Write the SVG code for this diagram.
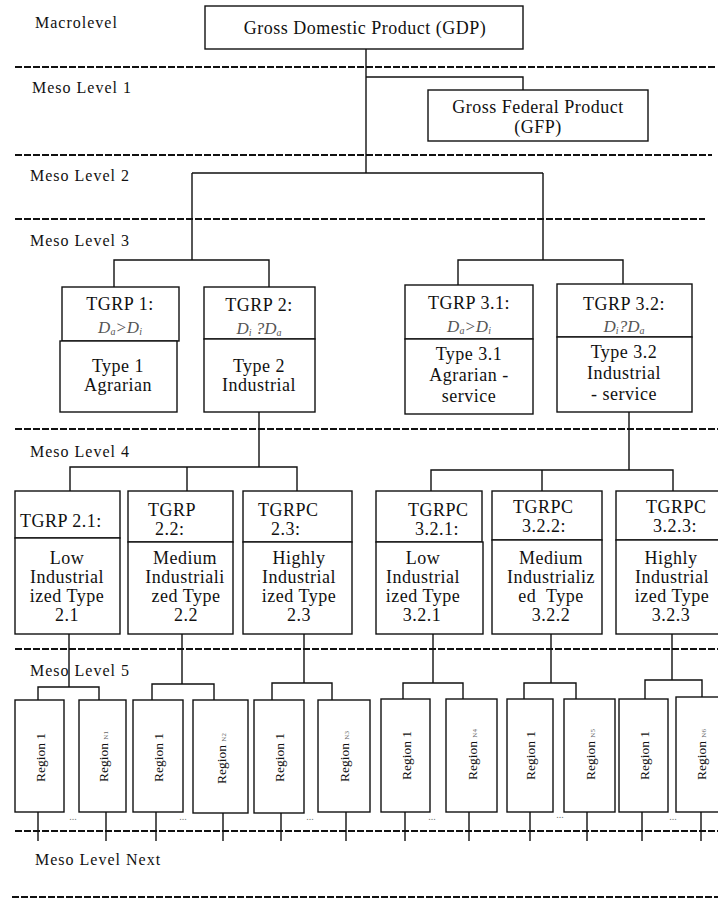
<svg xmlns="http://www.w3.org/2000/svg" width="718" height="899" viewBox="0 0 718 899" font-family="'Liberation Serif', 'DejaVu Serif', serif">
<style>
text{font-family:'Liberation Serif','DejaVu Serif',serif;fill:#111}
.lvl{font-size:16px;letter-spacing:1px}
.t{font-size:18px;letter-spacing:0.5px;text-anchor:middle}
.tl{font-size:18px;letter-spacing:0.5px}
.f{font-size:17px;font-style:italic;fill:#555;text-anchor:middle}
.sub{font-size:10px}
.r{font-size:13.5px}
.rs{font-size:7px;fill:#666}
.dots{font-size:10px;fill:#777;text-anchor:middle}
.box{fill:#fff;stroke:#111;stroke-width:1.4}
.dash{stroke:#111;stroke-width:2;stroke-dasharray:7 2;fill:none}
.c{stroke:#111;stroke-width:1.4;fill:none}
</style>

<g id="levels">
<line class="dash" x1="15" y1="67" x2="715" y2="67"/>
<line class="dash" x1="15" y1="155" x2="712" y2="155"/>
<line class="dash" x1="15" y1="219" x2="705" y2="219"/>
<line class="dash" x1="15" y1="429" x2="718" y2="429"/>
<line class="dash" x1="15" y1="649" x2="718" y2="649"/>
<line class="dash" x1="15" y1="831" x2="718" y2="831"/>
<line class="dash" x1="12" y1="897" x2="718" y2="897"/>
<text class="lvl" x="35" y="28">Macrolevel</text>
<text class="lvl" x="32" y="93">Meso Level 1</text>
<text class="lvl" x="30" y="181">Meso Level 2</text>
<text class="lvl" x="30" y="246">Meso Level 3</text>
<text class="lvl" x="30" y="457">Meso Level 4</text>
<text class="lvl" x="30" y="676">Meso Level 5</text>
<text class="lvl" x="35" y="865">Meso Level Next</text>
</g>

<g id="connectors">
<path class="c" d="M366 49V173M366 77H523V90"/>
<path class="c" d="M192 173H543M192 173V260M543 173V260"/>
<path class="c" d="M114 287V260H269V287"/>
<path class="c" d="M458 285V260H623V284"/>
<path class="c" d="M259 412V467M70 491V467H297V491M187 467V491"/>
<path class="c" d="M629 412V470M431 491V470H673V491M542 470V491"/>
<path class="c" d="M69 634V687M38 700V687H99V700"/>
<path class="c" d="M182 634V684M152 700V684H214V700"/>
<path class="c" d="M304 634V683M272 700V683H332V700"/>
<path class="c" d="M433 634V683M403 699V683H463V699"/>
<path class="c" d="M551 634V683M524 699V683H576V699"/>
<path class="c" d="M672 634V680M645 699V680H702V697"/>
<path class="c" d="M38 812V841M106 812V841M156 812V841M223 812V841M281 812V841M346 812V841M405 812V841M469 812V841M530 812V841M587 812V841M642 812V841M701 812V841"/>
</g>

<g id="gdp">
<rect class="box" x="205" y="6" width="318" height="43"/>
<text class="t" x="365" y="34">Gross Domestic Product (GDP)</text>
</g>

<g id="gfp">
<rect class="box" x="428" y="90" width="220" height="51"/>
<text class="t" x="538" y="113">Gross Federal Product</text>
<text class="t" x="538" y="133">(GFP)</text>
</g>

<g id="tgrp1">
<rect class="box" x="62" y="287" width="117" height="54"/>
<rect class="box" x="60" y="341" width="117" height="71"/>
<text class="t" x="120" y="310">TGRP 1:</text>
<text class="f" x="120" y="333">D<tspan class="sub" dy="2">a</tspan><tspan dy="-2">&gt;D</tspan><tspan class="sub" dy="2">i</tspan></text>
<text class="t" x="118" y="372">Type 1</text>
<text class="t" x="118" y="391">Agrarian</text>
</g>

<g id="tgrp2">
<rect class="box" x="204" y="287" width="111" height="52"/>
<rect class="box" x="204" y="339" width="111" height="73"/>
<text class="t" x="259" y="311">TGRP 2:</text>
<text class="f" x="259" y="334">D<tspan class="sub" dy="2">i</tspan><tspan dy="-2"> ?D</tspan><tspan class="sub" dy="2">a</tspan></text>
<text class="t" x="259" y="372">Type 2</text>
<text class="t" x="259" y="391">Industrial</text>
</g>

<g id="tgrp31">
<rect class="box" x="405" y="285" width="128" height="54"/>
<rect class="box" x="405" y="339" width="128" height="75"/>
<text class="t" x="469" y="309">TGRP 3.1:</text>
<text class="f" x="469" y="332">D<tspan class="sub" dy="2">a</tspan><tspan dy="-2">&gt;D</tspan><tspan class="sub" dy="2">i</tspan></text>
<text class="t" x="469" y="360">Type 3.1</text>
<text class="t" x="469" y="381">Agrarian -</text>
<text class="t" x="469" y="402">service</text>
</g>

<g id="tgrp32">
<rect class="box" x="557" y="284" width="135" height="53"/>
<rect class="box" x="557" y="337" width="135" height="75"/>
<text class="t" x="624" y="310">TGRP 3.2:</text>
<text class="f" x="624" y="332">D<tspan class="sub" dy="2">i</tspan><tspan dy="-2">?D</tspan><tspan class="sub" dy="2">a</tspan></text>
<text class="t" x="624" y="358">Type 3.2</text>
<text class="t" x="624" y="379">Industrial</text>
<text class="t" x="624" y="400">- service</text>
</g>

<g id="tgrp21">
<rect class="box" x="15" y="491" width="105" height="47"/>
<rect class="box" x="15" y="538" width="105" height="96"/>
<text class="tl" x="20" y="527">TGRP 2.1:</text>
<text class="t" x="67" y="564">Low</text>
<text class="t" x="67" y="583">Industrial</text>
<text class="t" x="67" y="602">ized Type</text>
<text class="t" x="67" y="621">2.1</text>
</g>

<g id="tgrp22">
<rect class="box" x="128" y="491" width="105" height="51"/>
<rect class="box" x="128" y="542" width="105" height="92"/>
<text class="tl" x="148" y="516">TGRP</text>
<text class="tl" x="155" y="535">2.2:</text>
<text class="t" x="185" y="564">Medium</text>
<text class="t" x="185" y="583">Industriali</text>
<text class="t" x="186" y="602">zed Type</text>
<text class="t" x="186" y="621">2.2</text>
</g>

<g id="tgrpc23">
<rect class="box" x="243" y="491" width="109" height="51"/>
<rect class="box" x="243" y="542" width="109" height="92"/>
<text class="tl" x="258" y="516">TGRPC</text>
<text class="tl" x="271" y="535">2.3:</text>
<text class="t" x="299" y="564">Highly</text>
<text class="t" x="299" y="583">Industrial</text>
<text class="t" x="299" y="602">ized Type</text>
<text class="t" x="299" y="621">2.3</text>
</g>

<g id="tgrpc321">
<rect class="box" x="376" y="491" width="106" height="51"/>
<rect class="box" x="376" y="542" width="107" height="92"/>
<text class="tl" x="408" y="516">TGRPC</text>
<text class="tl" x="415" y="535">3.2.1:</text>
<text class="t" x="423" y="564">Low</text>
<text class="t" x="423" y="583">Industrial</text>
<text class="t" x="423" y="602">ized Type</text>
<text class="t" x="422" y="621">3.2.1</text>
</g>

<g id="tgrpc322">
<rect class="box" x="492" y="491" width="110" height="49"/>
<rect class="box" x="492" y="540" width="110" height="94"/>
<text class="tl" x="513" y="513">TGRPC</text>
<text class="tl" x="522" y="532">3.2.2:</text>
<text class="t" x="551" y="564">Medium</text>
<text class="t" x="551" y="583">Industrializ</text>
<text class="t" x="551" y="602" xml:space="preserve">ed  Type</text>
<text class="t" x="551" y="621">3.2.2</text>
</g>

<g id="tgrpc323">
<rect class="box" x="616" y="491" width="106" height="49"/>
<rect class="box" x="616" y="540" width="106" height="94"/>
<text class="tl" x="646" y="513">TGRPC</text>
<text class="tl" x="653" y="532">3.2.3:</text>
<text class="t" x="671" y="564">Highly</text>
<text class="t" x="672" y="583">Industrial</text>
<text class="t" x="672" y="602">ized Type</text>
<text class="t" x="671" y="621">3.2.3</text>
</g>

<g id="regions-2-1">
<rect class="box" x="15" y="700" width="49" height="112"/>
<text class="r" transform="translate(45 782) rotate(-90)">Region 1</text>
<rect class="box" x="79" y="700" width="47" height="112"/>
<text class="r" transform="translate(108 782) rotate(-90)">Region <tspan class="rs">N1</tspan></text>
<text class="dots" x="73" y="820">...</text>
</g>

<g id="regions-2-2">
<rect class="box" x="133" y="700" width="50" height="112"/>
<text class="r" transform="translate(163 782) rotate(-90)">Region 1</text>
<rect class="box" x="193" y="700" width="55" height="113"/>
<text class="r" transform="translate(226 784) rotate(-90)">Region <tspan class="rs">N2</tspan></text>
<text class="dots" x="183" y="820">...</text>
</g>

<g id="regions-2-3">
<rect class="box" x="254" y="700" width="50" height="113"/>
<text class="r" transform="translate(284 782) rotate(-90)">Region 1</text>
<rect class="box" x="318" y="700" width="52" height="112"/>
<text class="r" transform="translate(349 782) rotate(-90)">Region <tspan class="rs">N3</tspan></text>
<text class="dots" x="310" y="820">...</text>
</g>

<g id="regions-3-2-1">
<rect class="box" x="381" y="699" width="49" height="113"/>
<text class="r" transform="translate(411 780) rotate(-90)">Region 1</text>
<rect class="box" x="446" y="699" width="51" height="113"/>
<text class="r" transform="translate(477 780) rotate(-90)">Region <tspan class="rs">N4</tspan></text>
<text class="dots" x="432" y="820">...</text>
</g>

<g id="regions-3-2-2">
<rect class="box" x="507" y="699" width="46" height="113"/>
<text class="r" transform="translate(535 780) rotate(-90)">Region 1</text>
<rect class="box" x="564" y="699" width="51" height="113"/>
<text class="r" transform="translate(595 780) rotate(-90)">Region <tspan class="rs">N5</tspan></text>
<text class="dots" x="560" y="818">...</text>
</g>

<g id="regions-3-2-3">
<rect class="box" x="619" y="699" width="49" height="113"/>
<text class="r" transform="translate(649 780) rotate(-90)">Region 1</text>
<rect class="box" x="676" y="697" width="50" height="115"/>
<text class="r" transform="translate(706 780) rotate(-90)">Region <tspan class="rs">N6</tspan></text>
<text class="dots" x="673" y="820">...</text>
</g>
</svg>
